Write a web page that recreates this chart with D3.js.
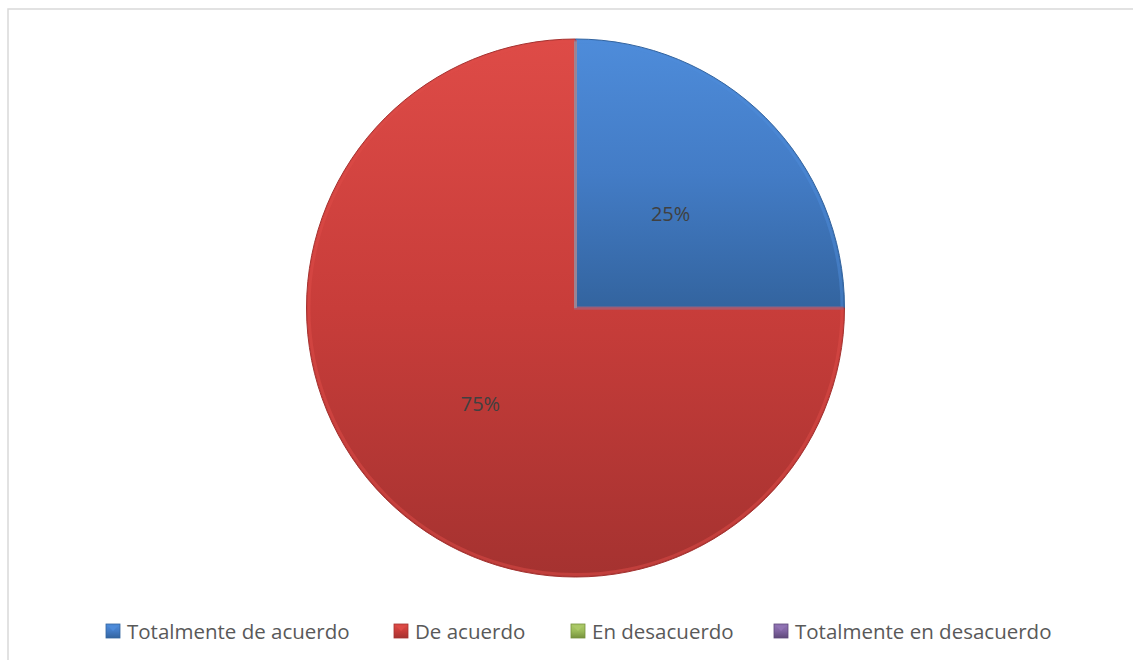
<!DOCTYPE html>
<html>
<head>
<meta charset="utf-8">
<script src="https://cdn.jsdelivr.net/npm/d3@7"></script>
<style>
  body { margin: 0; background: #fff; overflow: hidden; }
  svg { display: block; }
</style>
</head>
<body>
<script>
var categories = ["Totalmente de acuerdo", "De acuerdo", "En desacuerdo", "Totalmente en desacuerdo"];
var values = [25, 75, 0, 0];
var colors = ["#437cc6", "#c83d3a", "#9bbb59", "#8064a2"];
var darkColors = ["#33649f", "#a53230", "#76923c", "#5f497a"];
var lightColors = ["#4e8cda", "#de4b47", "#acc968", "#9174b5"];

var width = 1133, height = 660;
var cx = 575.5, cy = 308, r = 269;

var svg = d3.select("body").append("svg").attr("width", width).attr("height", height);

// chart frame (only top and left visible)
svg.append("path")
  .attr("d", "M8," + height + " L8,9 L" + width + ",9")
  .attr("fill", "none").attr("stroke", "#d9d9d9").attr("stroke-width", 1.5);

var defs = svg.append("defs");
colors.forEach(function(c, i) {
  var g = defs.append("linearGradient").attr("id", "grad" + i)
    .attr("x1", "0").attr("y1", "0").attr("x2", "0").attr("y2", "1");
  g.append("stop").attr("offset", "0%").attr("stop-color", lightColors[i]);
  g.append("stop").attr("offset", "50%").attr("stop-color", c);
  g.append("stop").attr("offset", "100%").attr("stop-color", darkColors[i]);
});

var pie = d3.pie().sort(null).value(function(d) { return d; });
var arcs = pie(values);
var arc = d3.arc().innerRadius(0).outerRadius(r);
var bevel = d3.arc().innerRadius(0).outerRadius(r - 2.5);

var g = svg.append("g").attr("transform", "translate(" + cx + "," + cy + ")");

g.selectAll("path.slice").data(arcs).enter().append("path")
  .attr("class", "slice")
  .attr("d", arc)
  .attr("fill", function(d, i) { return "url(#grad" + i + ")"; })
  .attr("stroke", function(d, i) { return darkColors[i]; })
  .attr("stroke-width", 1);

g.selectAll("path.bevel").data(arcs).enter().append("path")
  .attr("class", "bevel")
  .attr("d", bevel)
  .attr("fill", "none")
  .attr("stroke", function(d, i) { return lightColors[i]; })
  .attr("stroke-opacity", 0.5)
  .attr("stroke-width", 3);

var labelArc = d3.arc().innerRadius(r * 0.5).outerRadius(r * 0.5);
g.selectAll("text.lbl").data(arcs.filter(function(d) { return d.value > 0; })).enter().append("text")
  .attr("class", "lbl")
  .attr("transform", function(d) {
    var p = labelArc.centroid(d);
    return "translate(" + p[0] + "," + (p[1] + 8) + ")";
  })
  .attr("text-anchor", "middle")
  .attr("font-family", "'Open Sans', 'Noto Sans', sans-serif")
  .attr("font-size", 20)
  .attr("fill", "#404040")
  .text(function(d) { return d.value + "%"; });

// legend
var legendX = [106, 394, 571, 774];
var legend = svg.selectAll("g.leg").data(categories).enter().append("g")
  .attr("class", "leg")
  .attr("transform", function(d, i) { return "translate(" + legendX[i] + ",624)"; });

legend.append("rect")
  .attr("width", 14).attr("height", 14)
  .attr("fill", function(d, i) { return "url(#grad" + i + ")"; })
  .attr("stroke", function(d, i) { return darkColors[i]; })
  .attr("stroke-width", 0.8);

legend.append("path")
  .attr("d", "M2,2 L12,2 L7,7 Z")
  .attr("fill", function(d, i) { return lightColors[i]; })
  .attr("opacity", 0.9);

legend.append("text")
  .attr("x", 21).attr("y", 14.5)
  .attr("font-family", "'Open Sans', 'Noto Sans', sans-serif")
  .attr("font-size", 20.5)
  .attr("fill", "#595959")
  .text(function(d) { return d; });
</script>
</body>
</html>
